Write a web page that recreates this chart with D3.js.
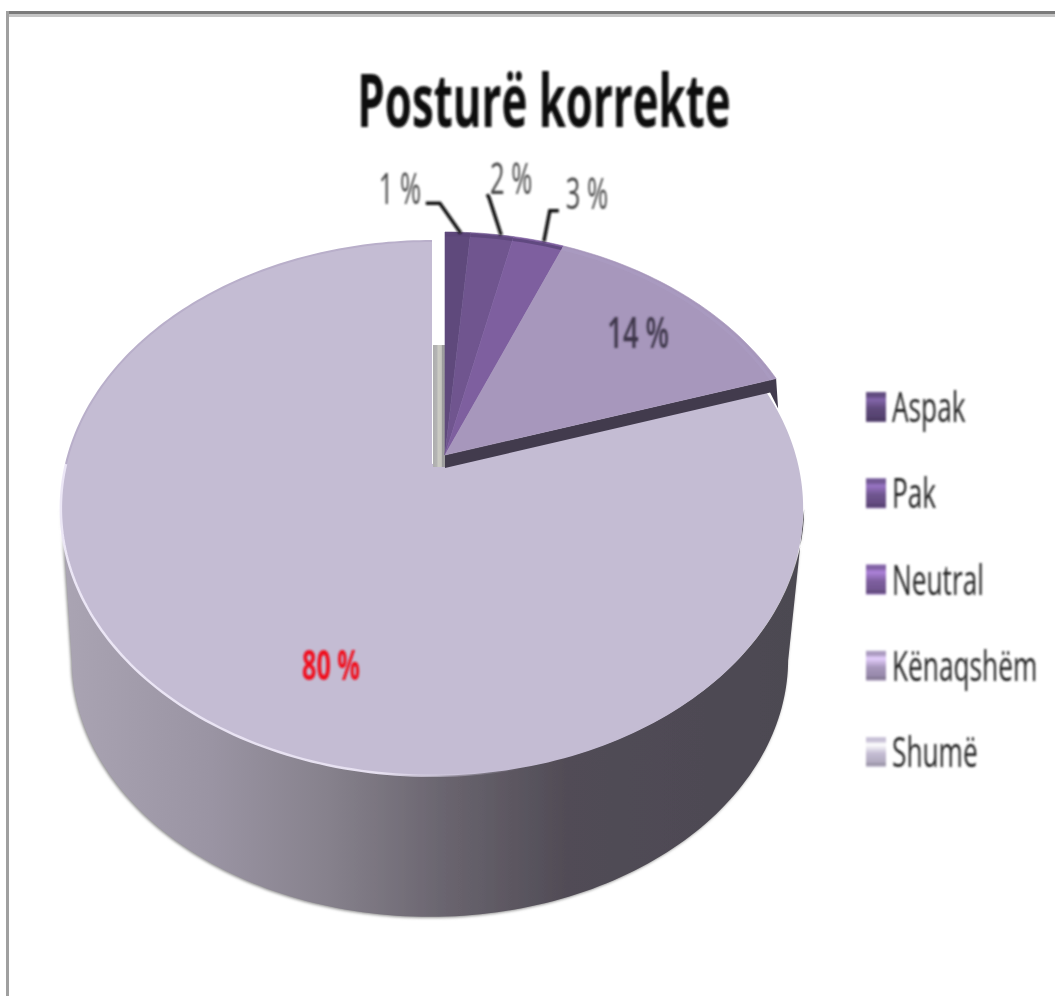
<!DOCTYPE html>
<html>
<head>
<meta charset="utf-8">
<script src="https://cdn.jsdelivr.net/npm/d3@7"></script>
<style>
html, body { margin: 0; padding: 0; background: #fff; }
svg { display: block; }
text { font-family: "Open Sans", sans-serif; }
</style>
</head>
<body>
<script>
// values
const categories = ['Aspak', 'Pak', 'Neutral', 'Kënaqshëm', 'Shumë'];
const values = [1.3, 2.2, 2.6, 13.9, 80];
const percentLabels = ['1 %', '2 %', '3 %', '14 %', '80 %'];
const chartTitle = 'Posturë korrekte';

const colors = ['#5f4a7c', '#6f558f', '#7e5f9f', '#a797bc', '#c4bcd3'];
const swatchTops = ['#6a5488', '#7a5fa0', '#8a68b0', '#b2a4c6', '#cfc9dc'];
const width = 1055, height = 996;

// perspective of the pie disc
const A = 366, B = 260, P = 0.166;
const bigTip = [432, 464];
const smallTip = [445, 455];
const depth = 153, bottomScale = 0.965;

function rim(a, tip, r = 1) {
    const u = Math.sin(a) * r, v = Math.cos(a) * r;
    return [tip[0] + A * u / (1 + P * v), tip[1] - B * v / (1 + P * v)];
}
function arcPoints(a0, a1, tip, r = 1) {
    const n = Math.max(2, Math.ceil(Math.abs(a1 - a0) / 0.02));
    return d3.range(n + 1).map(i => rim(a0 + (a1 - a0) * i / n, tip, r));
}

const svg = d3.select('body').append('svg')
    .attr('width', width)
    .attr('height', height);

const defs = svg.append('defs');
function blur(id, dev) {
    defs.append('filter').attr('id', id)
        .attr('x', '-5%').attr('y', '-5%').attr('width', '110%').attr('height', '110%')
        .append('feGaussianBlur').attr('stdDeviation', dev);
}
blur('soft', 0.7);
blur('softer', 1.6);
blur('textBlur', 0.85);

function hGradient(id, x1, x2, stops) {
    const g = defs.append('linearGradient').attr('id', id)
        .attr('gradientUnits', 'userSpaceOnUse')
        .attr('x1', x1).attr('x2', x2).attr('y1', 0).attr('y2', 0);
    stops.forEach(s => g.append('stop').attr('offset', s[0]).attr('stop-color', s[1]).attr('stop-opacity', s[2] === undefined ? 1 : s[2]));
}
hGradient('sideFill', 62, 802, [[0, '#aaa4b3'], [0.2, '#9a94a3'], [0.36, '#86818c'], [0.52, '#69646e'], [0.68, '#514c56'], [1, '#4c4851']]);
hGradient('rimLight', 60, 520, [[0, '#ece7f6'], [0.7, '#e6e0f0'], [1, '#c4bcd3', 0]]);
hGradient('cutWall', 433, 445, [[0, '#adadad'], [0.35, '#b5b5b5'], [0.4, '#cbcbc4'], [0.7, '#c6c6c0'], [0.75, '#9c9c9c'], [1, '#a0a0a0']]);

// frame of the picture
svg.append('rect').attr('x', 6).attr('y', 11).attr('width', width).attr('height', 3).attr('fill', '#7a7a7a');
svg.append('rect').attr('x', 9).attr('y', 14).attr('width', width).attr('height', 3).attr('fill', '#c4c4c4');
svg.append('rect').attr('x', 6).attr('y', 11).attr('width', 3).attr('height', height).attr('fill', '#a0a0a0');

const line = d3.line();
const pie = d3.pie().sort(null).value(d => d);
const arcs = pie(values);
const bigArc = arcs[4];

const chart = svg.append('g');

// side wall under the big slice
const bottomTip = [bigTip[0] - 3, bigTip[1] + depth];
const topFront = arcPoints(Math.PI * 0.555, Math.PI * 1.445, bigTip);
const bottomFront = arcPoints(Math.PI * 1.445, Math.PI * 0.555, [0, 0]).map(p => [
    bottomTip[0] + p[0] * bottomScale,
    bottomTip[1] + p[1] * bottomScale
]);
chart.append('path')
    .attr('d', line(topFront.concat(bottomFront)) + 'Z')
    .attr('fill', '#8a8a8a')
    .attr('filter', 'url(#softer)');
chart.append('path')
    .attr('d', line(topFront.concat(bottomFront)) + 'Z')
    .attr('fill', 'url(#sideFill)')
    .attr('transform', 'translate(1,-1)')
    .attr('filter', 'url(#soft)');

// big slice
const bigPts = [bigTip].concat(arcPoints(bigArc.startAngle, bigArc.endAngle, bigTip));
chart.append('path')
    .attr('d', line(bigPts) + 'Z')
    .attr('fill', colors[4])
    .attr('filter', 'url(#soft)');
chart.append('path')
    .attr('d', line(arcPoints(Math.PI * 0.9, Math.PI * 1.5, bigTip)))
    .attr('fill', 'none')
    .attr('stroke', 'url(#rimLight)')
    .attr('stroke-width', 2.5)
    .attr('filter', 'url(#soft)');
chart.append('path')
    .attr('d', line(arcPoints(Math.PI * 1.5, Math.PI * 2, bigTip)))
    .attr('fill', 'none')
    .attr('stroke', '#b9afca')
    .attr('stroke-width', 2)
    .attr('filter', 'url(#soft)');

// grey cut wall beside the small slices
chart.append('rect')
    .attr('x', bigTip[0] + 1).attr('y', bigTip[1] - 119)
    .attr('width', smallTip[0] - bigTip[0] - 1).attr('height', 122)
    .attr('fill', 'url(#cutWall)');

// dark wall below the small slices
const smallRimEnd = rim(arcs[3].endAngle, smallTip);
const wall = [
    smallTip,
    smallRimEnd,
    [smallRimEnd[0] + 2, smallRimEnd[1] + 30],
    [smallRimEnd[0] - 6, smallRimEnd[1] + 14],
    [smallTip[0], smallTip[1] + 13]
];
chart.append('path')
    .attr('d', line(wall) + 'Z')
    .attr('fill', '#423b4e')
    .attr('filter', 'url(#soft)');

// small slices, moved out of the pie
const smallGroup = chart.append('g').attr('filter', 'url(#soft)');
arcs.slice(0, 4).forEach((d, i) => {
    const pts = [smallTip].concat(arcPoints(d.startAngle, d.endAngle, smallTip));
    smallGroup.append('path')
        .attr('d', line(pts) + 'Z')
        .attr('fill', colors[i])
        .attr('stroke', colors[i])
        .attr('stroke-width', 0.6);
    smallGroup.append('path')
        .attr('d', line(arcPoints(d.startAngle, d.endAngle, smallTip, 0.985)))
        .attr('fill', 'none')
        .attr('stroke', i < 3 ? '#5a4478' : '#aa9bc0')
        .attr('stroke-width', 3)
        .attr('opacity', 0.8);
});

// leader lines and labels
const leaderBends = [
    [[-21, -30], [-35, -30]],
    [[-12, -37], [-14, -41]],
    [[6, -31], [15, -31]]
];
const labelOffsets = [[-58, -28], [19, -40], [48, -32]];
const midRim = arcs.slice(0, 3).map(d => rim((d.startAngle + d.endAngle) / 2, smallTip));
const leaderShift = [3, 9, 5];

const labels = svg.append('g').attr('filter', 'url(#textBlur)');
midRim.forEach((m, i) => {
    const base = [m[0] + leaderShift[i], m[1] + 1];
    const pts = [base].concat(leaderBends[i].map(b => [base[0] + b[0], base[1] + b[1]]));
    labels.append('path')
        .attr('d', line(pts))
        .attr('fill', 'none')
        .attr('stroke', '#111')
        .attr('stroke-width', 3.5);
    addText(labels, percentLabels[i], m[0] + labelOffsets[i][0], m[1] + labelOffsets[i][1], 44, 0.58, '#444', 'middle', 400);
});
const midLabel14 = rim((arcs[3].startAngle + arcs[3].endAngle) / 2, smallTip, 0.76);
addText(labels, percentLabels[3], midLabel14[0] + 6, midLabel14[1] + 17, 44, 0.62, '#3c3648', 'middle', 600);
addText(labels, percentLabels[4], bigTip[0] - 101, bigTip[1] + 216, 42, 0.6, '#f00a1e', 'middle', 700);

// title
addText(labels, chartTitle, 544, 127, 73, 0.6, '#0a0a0a', 'middle', 700);

// legend
const legendY = d3.scalePoint().domain(categories).range([407, 752]);
const swatchGrad = (i) => {
    const g = defs.append('linearGradient').attr('id', 'sw' + i).attr('x1', 0).attr('x2', 0).attr('y1', 0).attr('y2', 1);
    [[0, swatchTops[i]], [0.12, colors[i]], [0.25, d3.color(colors[i]).brighter(0.9)], [0.55, colors[i]], [0.86, d3.color(colors[i]).darker(0.3)], [0.9, d3.color(colors[i]).darker(0.9)], [1, swatchTops[i]]]
        .forEach(s => g.append('stop').attr('offset', s[0]).attr('stop-color', s[1]));
    return 'url(#sw' + i + ')';
};
const legend = svg.append('g').attr('filter', 'url(#textBlur)');
categories.forEach((c, i) => {
    const y = legendY(c);
    legend.append('rect')
        .attr('x', 866).attr('y', y - 15)
        .attr('width', 20).attr('height', 30)
        .attr('fill', swatchGrad(i));
    addText(legend, c, 892, y + 15, 42, 0.625, '#222', 'start', 500);
});

function addText(parent, str, x, y, size, sx, fill, anchor, weight) {
    parent.append('text')
        .attr('transform', `translate(${x},${y}) scale(${sx},1)`)
        .attr('font-size', size)
        .attr('font-weight', weight)
        .attr('fill', fill)
        .attr('text-anchor', anchor)
        .text(str);
}
</script>
</body>
</html>
